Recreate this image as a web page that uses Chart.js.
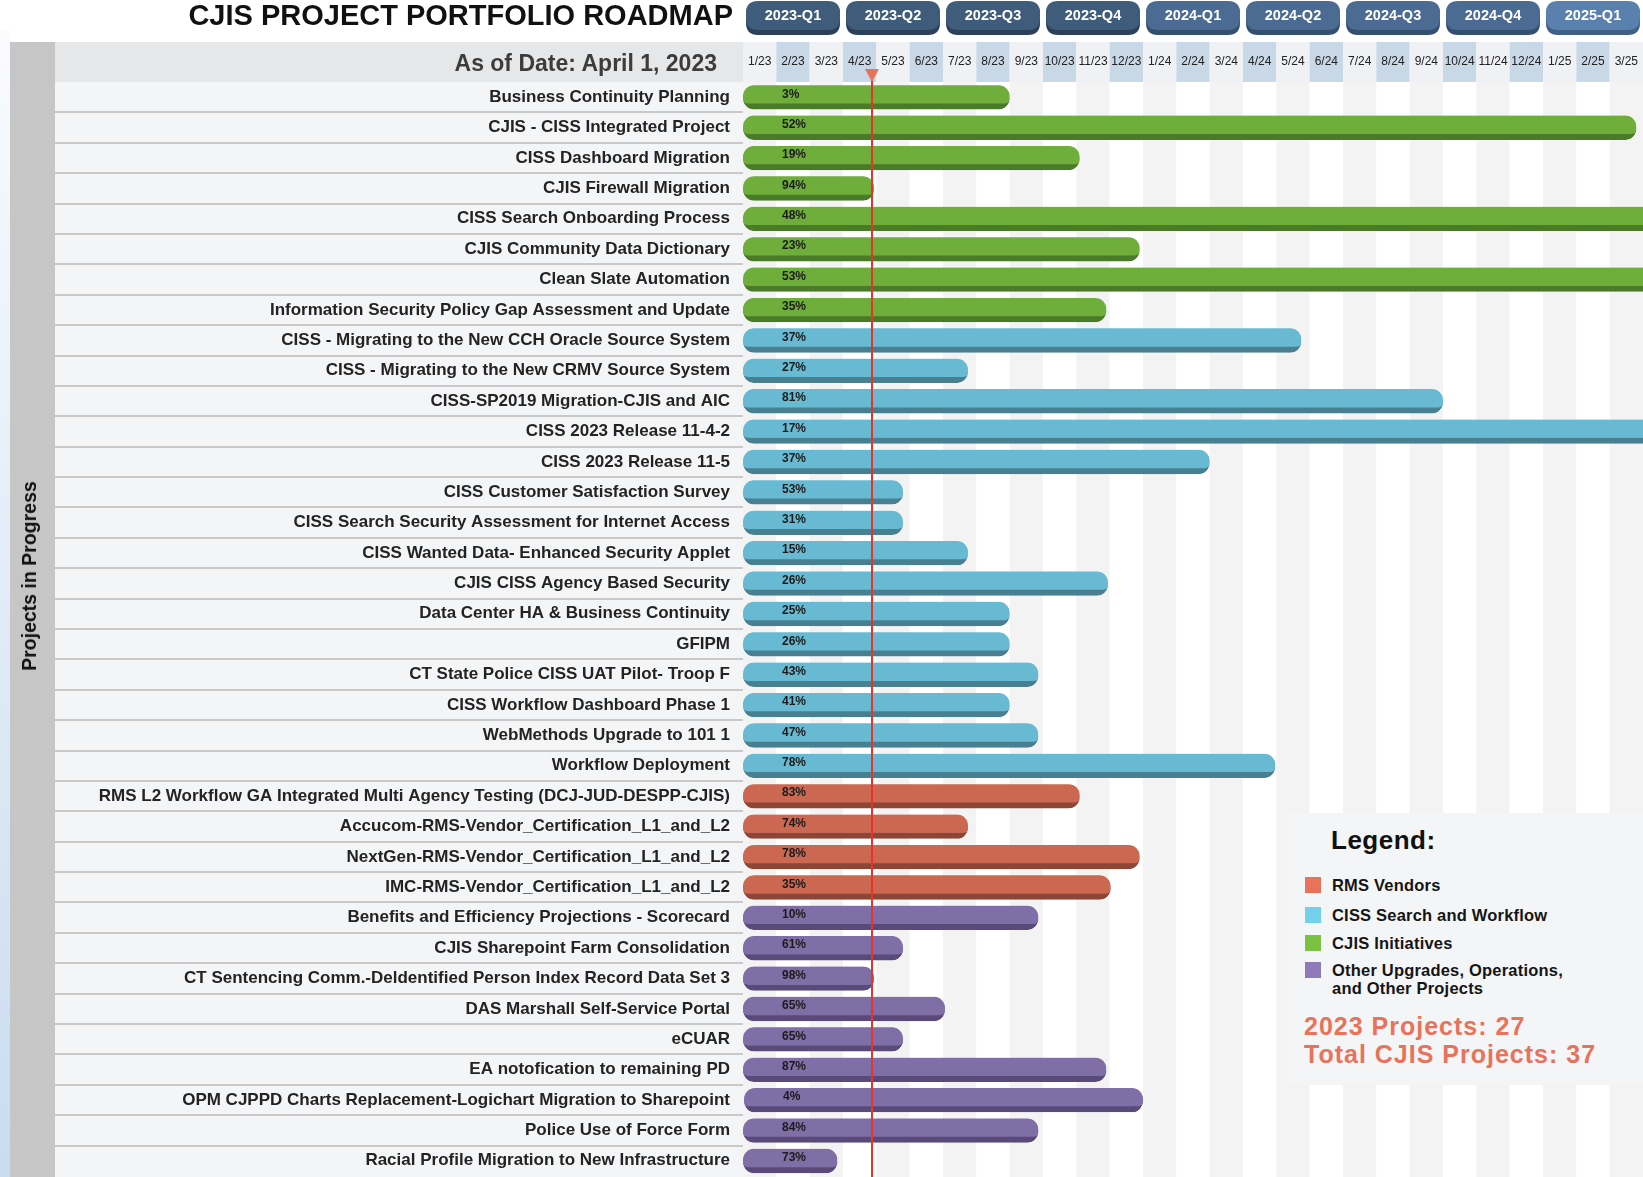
<!DOCTYPE html>
<html>
<head>
<meta charset="utf-8">
<title>CJIS Project Portfolio Roadmap</title>
<script src="https://cdn.jsdelivr.net/npm/chart.js@4.4.1/dist/chart.umd.min.js"></script>
<style>
  html, body { margin: 0; padding: 0; background: #ffffff; width: 1643px; height: 1177px; overflow: hidden; }
  body { font-family: 'Liberation Sans', Arial, sans-serif; }
  #wrap { position: relative; width: 1643px; height: 1177px; }
  #chart { position: absolute; left: 0; top: 0; }
  .txt { position: absolute; white-space: nowrap; font-weight: bold; }
  #title { left: 0; width: 733px; top: 0; line-height: 30px; text-align: right; font-size: 29px; color: #111; }
  #asof { left: 0; width: 717px; top: 50px; line-height: 26px; text-align: right; font-size: 23px; color: #3c3c3c; }
  #side { left: 29px; top: 576px; transform: translate(-50%, -50%) rotate(-90deg); font-size: 19.5px; color: #111; line-height: 22px; }
  #legend { position: absolute; left: 1288px; top: 813px; width: 355px; height: 272px; background: #f4f5f7; }
  #legend .head { left: 43px; top: 12px; line-height: 30px; font-size: 26px; letter-spacing: 0.5px; color: #111; }
  #legend .sw { position: absolute; left: 17px; width: 16px; height: 16px; }
  #legend .lab { left: 44px; font-size: 16.5px; line-height: 18px; color: #151515; letter-spacing: 0.2px; }
  #legend .tot { left: 16px; font-size: 25px; line-height: 28px; color: #e8735a; letter-spacing: 1px; }
</style>
</head>
<body>
<div id="wrap">
  <canvas id="chart" width="1643" height="1177"></canvas>
  <div id="title" class="txt">CJIS PROJECT PORTFOLIO ROADMAP</div>
  <div id="asof" class="txt">As of Date: April 1, 2023</div>
  <div id="side" class="txt">Projects in Progress</div>
  <div id="legend"></div>
</div>
<script>
// ---------------- data ----------------
const monthLabels = ['1/23','2/23','3/23','4/23','5/23','6/23','7/23','8/23','9/23','10/23','11/23','12/23',
  '1/24','2/24','3/24','4/24','5/24','6/24','7/24','8/24','9/24','10/24','11/24','12/24','1/25','2/25','3/25'];
const quarterLabels = ['2023-Q1','2023-Q2','2023-Q3','2023-Q4','2024-Q1','2024-Q2','2024-Q3','2024-Q4','2025-Q1'];

const projects = [
  'Business Continuity Planning',
  'CJIS - CISS Integrated Project',
  'CISS Dashboard Migration',
  'CJIS Firewall Migration',
  'CISS Search Onboarding Process',
  'CJIS Community Data Dictionary',
  'Clean Slate Automation',
  'Information Security Policy Gap Assessment and Update',
  'CISS - Migrating to the New CCH Oracle Source System',
  'CISS - Migrating to the New CRMV Source System',
  'CISS-SP2019 Migration-CJIS and AIC',
  'CISS 2023 Release 11-4-2',
  'CISS 2023 Release 11-5',
  'CISS Customer Satisfaction Survey',
  'CISS Search Security Assessment for Internet Access',
  'CISS Wanted Data- Enhanced Security Applet',
  'CJIS CISS Agency Based Security',
  'Data Center HA & Business Continuity',
  'GFIPM',
  'CT State Police CISS UAT Pilot- Troop F',
  'CISS Workflow Dashboard Phase 1',
  'WebMethods Upgrade to 101 1',
  'Workflow Deployment',
  'RMS L2 Workflow GA Integrated Multi Agency Testing (DCJ-JUD-DESPP-CJIS)',
  'Accucom-RMS-Vendor_Certification_L1_and_L2',
  'NextGen-RMS-Vendor_Certification_L1_and_L2',
  'IMC-RMS-Vendor_Certification_L1_and_L2',
  'Benefits and Efficiency Projections - Scorecard',
  'CJIS Sharepoint Farm Consolidation',
  'CT Sentencing Comm.-Deldentified Person Index Record Data Set 3',
  'DAS Marshall Self-Service Portal',
  'eCUAR',
  'EA notofication to remaining PD',
  'OPM CJPPD Charts Replacement-Logichart Migration to Sharepoint',
  'Police Use of Force Form',
  'Racial Profile Migration to New Infrastructure'
];
// group index: 0 RMS Vendors, 1 CISS Search and Workflow, 2 CJIS Initiatives, 3 Other
const projectGroup = [2,2,2,2,2,2,2,2, 1,1,1,1,1,1,1,1,1,1,1,1,1,1,1, 0,0,0,0, 3,3,3,3,3,3,3,3,3];
// start / end in months counted from 1 Jan 2023
const startMonth = [0,0,0,0,0,0,0,0, 0,0,0,0,0,0,0,0,0,0,0,0,0,0,0, 0,0,0,0, 0,0,0,0,0,0,0.03,0,0];
const endMonth = [8.0,26.8,10.1,3.93,28,11.9,28,10.9,
  16.75,6.75,21.0,28,14.0,4.8,4.8,6.75,10.95,8.0,8.0,8.86,8.0,8.86,15.97,
  10.1,6.75,11.9,11.03,
  8.86,4.8,3.93,6.06,4.8,10.9,12.0,8.86,2.83];
const pctComplete = [3,52,19,94,48,23,53,35,
  37,27,81,17,37,53,31,15,26,25,26,43,41,47,78,
  83,74,78,35,
  10,61,98,65,65,87,4,84,73];
const asOfMonth = 3.87;

const groupNames = ['RMS Vendors','CISS Search and Workflow','CJIS Initiatives','Other Upgrades, Operations, and Other Projects'];
const legendLines = [['RMS Vendors'],['CISS Search and Workflow'],['CJIS Initiatives'],['Other Upgrades, Operations,','and Other Projects']];
const totalsText = ['2023 Projects: 27','Total CJIS Projects: 37'];

// ---------------- styles ----------------
const barFill   = ['#cc6852','#68bad3','#6fae3b','#806ea7'];
const barShadow = ['#8d4536','#487f91','#497b29','#5a4a7a'];
const legendSwatch = ['#e8735a','#71d0ea','#7cc242','#8f7bb9'];
const quarterFill = ['#3f5c7b','#3f5c7b','#3f5c7b','#3f5c7b','#4b6b92','#4b6b92','#4b6b92','#4b6b92','#5a80ad'];
const quarterShade = ['#2c4159','#2c4159','#2c4159','#2c4159','#34506f','#34506f','#34506f','#34506f','#3f5f85'];

// ---------------- legend (html) ----------------
(function buildLegend() {
  const lg = document.getElementById('legend');
  let html = '<div class="txt head">Legend:</div>';
  const centers = [72, 102, 130, 157];
  legendLines.forEach((lines, i) => {
    html += '<div class="sw" style="top:' + (centers[i] - 8) + 'px;background:' + legendSwatch[i] + '"></div>';
    lines.forEach((ln, k) => {
      html += '<div class="txt lab" style="top:' + (centers[i] - 9 + k * 18) + 'px">' + ln + '</div>';
    });
  });
  html += '<div class="txt tot" style="top:' + (213 - 14) + 'px">' + totalsText[0] + '</div>';
  html += '<div class="txt tot" style="top:' + (241 - 14) + 'px">' + totalsText[1] + '</div>';
  lg.innerHTML = html;
})();

// ---------------- chart ----------------
const FONT = "'Liberation Sans', Arial, sans-serif";
const HEADER_H = 82;

const datasets = groupNames.map((name, g) => ({
  label: name,
  data: projects.map((p, i) => projectGroup[i] === g ? [startMonth[i], endMonth[i]] : null),
  backgroundColor: barFill[g],
  borderColor: barShadow[g],
  borderWidth: { top: 0, left: 0, right: 0, bottom: 6 },
  borderSkipped: false,
  borderRadius: { topLeft: 11, topRight: 11, bottomLeft: 11, bottomRight: 11 },
  barThickness: 24,
  grouped: false
}));

function roundRect(ctx, x, y, w, h, r) {
  ctx.beginPath();
  ctx.moveTo(x + r, y);
  ctx.lineTo(x + w - r, y);
  ctx.quadraticCurveTo(x + w, y, x + w, y + r);
  ctx.lineTo(x + w, y + h - r);
  ctx.quadraticCurveTo(x + w, y + h, x + w - r, y + h);
  ctx.lineTo(x + r, y + h);
  ctx.quadraticCurveTo(x, y + h, x, y + h - r);
  ctx.lineTo(x, y + r);
  ctx.quadraticCurveTo(x, y, x + r, y);
  ctx.closePath();
}

const backdrop = {
  id: 'backdrop',
  beforeDraw(chart) {
    const ctx = chart.ctx;
    const xs = chart.scales.x, ys = chart.scales.y;
    const area = chart.chartArea;
    const W = chart.width, H = chart.height;
    ctx.save();
    // left light-blue edge
    const gr = ctx.createLinearGradient(0, 0, 0, H);
    gr.addColorStop(0, '#fbfcfe');
    gr.addColorStop(1, '#c9dcf0');
    ctx.fillStyle = gr;
    ctx.fillRect(0, 30, 10, H - 30);
    // grey side strip
    ctx.fillStyle = '#c6c6c6';
    ctx.fillRect(10, 42, 45, H - 42);
    // header cell behind "As of Date"
    ctx.fillStyle = '#e6e7e8';
    ctx.fillRect(55, 42, area.left - 55, area.top - 42);
    // label rows
    const rowH = ys.getPixelForValue(1) - ys.getPixelForValue(0);
    ctx.fillStyle = '#f4f5f7';
    ctx.fillRect(55, area.top, area.left - 55, H - area.top);
    ctx.fillStyle = '#c9c9c9';
    for (let i = 1; i < projects.length; i++) {
      const yb = Math.round(ys.getPixelForValue(i) - rowH / 2);
      ctx.fillRect(55, yb - 1, area.left - 55, 2);
    }
    // month columns (header + body)
    for (let m = 0; m < monthLabels.length; m++) {
      const x0 = xs.getPixelForValue(m), x1 = xs.getPixelForValue(m + 1);
      ctx.fillStyle = (m % 2 === 0) ? '#eff1f4' : '#c9d8e6';
      ctx.fillRect(x0, 42, x1 - x0, area.top - 42);
      ctx.fillStyle = (m % 2 === 0) ? '#f3f3f3' : '#ffffff';
      ctx.fillRect(x0, area.top, x1 - x0, H - area.top);
    }
    // quarter pills
    quarterLabels.forEach((q, k) => {
      const x0 = xs.getPixelForValue(3 * k) + 3;
      const x1 = xs.getPixelForValue(3 * k + 3) - 3;
      ctx.fillStyle = quarterShade[k];
      roundRect(ctx, x0, 2, x1 - x0, 33, 12);
      ctx.fill();
      ctx.fillStyle = quarterFill[k];
      roundRect(ctx, x0, 1, x1 - x0, 29, 12);
      ctx.fill();
      ctx.fillStyle = '#ffffff';
      ctx.font = 'bold 14.5px ' + FONT;
      ctx.textAlign = 'center';
      ctx.textBaseline = 'middle';
      ctx.fillText(q, (x0 + x1) / 2, 16);
    });
    ctx.restore();
  },
  afterDatasetsDraw(chart) {
    const ctx = chart.ctx;
    const xs = chart.scales.x;
    const top = chart.chartArea.top;
    ctx.save();
    // percent labels
    ctx.font = 'bold 12px ' + FONT;
    ctx.fillStyle = '#1b1b1b';
    ctx.textAlign = 'left';
    ctx.textBaseline = 'middle';
    chart.data.datasets.forEach((ds, d) => {
      const meta = chart.getDatasetMeta(d);
      meta.data.forEach((el, i) => {
        if (ds.data[i] == null) return;
        const p = el.getProps(['x', 'y', 'base'], true);
        ctx.fillText(pctComplete[i] + '%', Math.min(p.x, p.base) + 39, p.y - 3);
      });
    });
    // as-of line
    const xr = Math.round(xs.getPixelForValue(asOfMonth));
    ctx.fillStyle = '#e5352b';
    ctx.fillRect(xr - 1, top - 12, 2, chart.height - top + 12);
    ctx.fillStyle = '#e8735a';
    ctx.beginPath();
    ctx.moveTo(xr - 7, top - 13);
    ctx.lineTo(xr + 7, top - 13);
    ctx.lineTo(xr, top);
    ctx.closePath();
    ctx.fill();
    ctx.restore();
  }
};

new Chart(document.getElementById('chart'), {
  type: 'bar',
  data: { labels: projects, datasets },
  plugins: [backdrop],
  options: {
    indexAxis: 'y',
    responsive: false,
    animation: false,
    devicePixelRatio: 1,
    layout: { padding: { top: 0, bottom: 1, left: 0, right: 0 } },
    plugins: { legend: { display: false }, tooltip: { enabled: false } },
    scales: {
      x: {
        type: 'linear',
        position: 'top',
        min: 0,
        max: monthLabels.length,
        grid: { display: false, drawTicks: false },
        border: { display: false },
        afterBuildTicks: (scale) => { scale.ticks = monthLabels.map((_, i) => ({ value: i + 0.5 })); },
        afterFit: (scale) => { scale.height = HEADER_H; scale.paddingLeft = 0; scale.paddingRight = 0; },
        ticks: {
          autoSkip: false,
          maxRotation: 0,
          minRotation: 0,
          padding: 13,
          color: '#222222',
          font: { family: FONT, size: 12 },
          callback: (v, i) => monthLabels[i]
        }
      },
      y: {
        type: 'category',
        position: 'left',
        grid: { display: false, drawTicks: false },
        border: { display: false },
        afterFit: (scale) => { scale.width = 743; scale.paddingTop = 0; scale.paddingBottom = 0; },
        ticks: {
          autoSkip: false,
          padding: 13,
          color: '#232323',
          font: { family: FONT, size: 17, weight: 'bold' }
        }
      }
    }
  }
});
</script>
</body>
</html>
